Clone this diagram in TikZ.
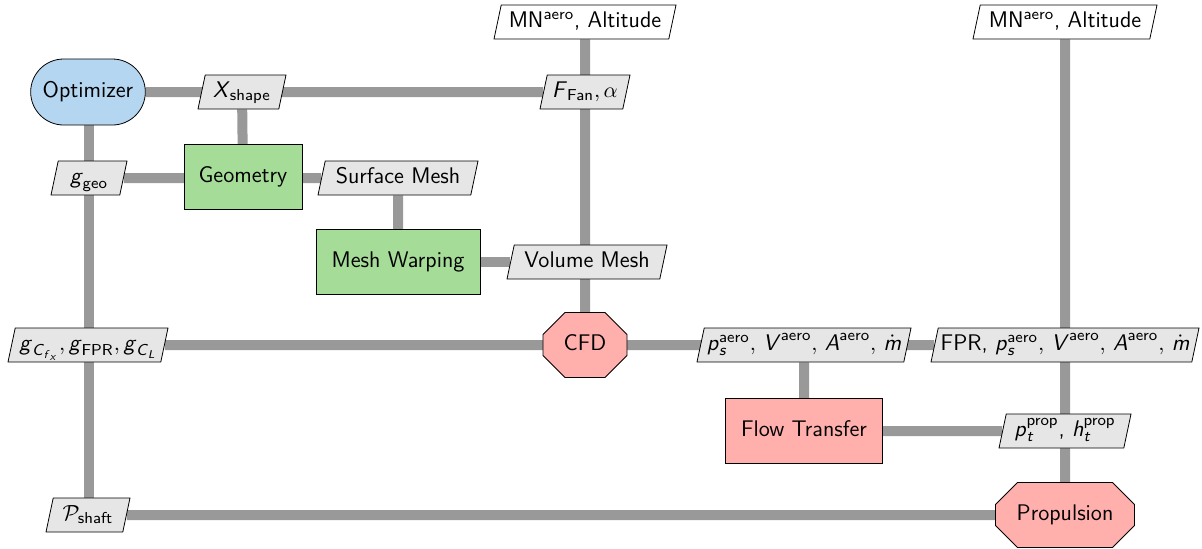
\documentclass[tikz,border=0pt]{standalone}
\usepackage{amsmath}
\usetikzlibrary{shapes.geometric,shapes.misc}
\pgfdeclarelayer{bg}\pgfsetlayers{bg,main}
\renewcommand{\familydefault}{\sfdefault}
\newcommand{\si}[1]{\text{\textit{#1}}}
\newcommand{\su}[1]{\text{\textup{#1}}}
\definecolor{optblue}{RGB}{180,214,240}
\definecolor{fgreen}{RGB}{164,220,152}
\definecolor{fred}{RGB}{255,176,172}
\definecolor{dgray}{RGB}{230,230,230}
\tikzset{
  base/.style={draw=black, line width=0.4pt, font=\fontsize{11.3}{13}\selectfont, text height=1.6ex, text depth=0.45ex},
  datanode/.style={base, trapezium, trapezium left angle=72, trapezium right angle=108, trapezium stretches body, fill=dgray, minimum height=17pt, inner xsep=1pt, inner ysep=1pt},
  inputnode/.style={datanode, fill=white},
  funcnode/.style={base, rectangle, fill=fgreen, minimum height=32.5pt},
  optnode/.style={base, rounded rectangle, fill=optblue, minimum width=64pt, minimum height=33pt},
  mdanode/.style={base, chamfered rectangle, chamfered rectangle xsep=5.5pt, chamfered rectangle ysep=5.5pt, fill=fred, minimum height=32.5pt},
  conn/.style={draw=gray!80, line width=5pt}
}
\begin{document}
\begin{tikzpicture}[x=0.5pt,y=-0.5pt]
\useasboundingbox (0,0) rectangle (1202,548);
\node[optnode] (opt) at (88,92) {Optimizer};
\node[datanode, minimum width=44pt] (xs) at (242,92) {\si{X}$_{\su{shape}}$};
\node[datanode, minimum width=45pt] (ff) at (585,92) {$\si{F}_{\su{Fan}},\alpha$};
\node[inputnode, minimum width=91pt] (in1) at (585,22) {MN$^{\su{aero}}$, Altitude};
\node[inputnode, minimum width=92pt] (in2) at (1065,22) {MN$^{\su{aero}}$, Altitude};
\node[datanode, minimum width=38pt] (gg) at (89,178) {$\si{g}_{\su{geo}}$};
\node[funcnode, minimum width=59pt] (geo) at (243,177) {Geometry};
\node[datanode, minimum width=80pt] (sm) at (398,178) {Surface Mesh};
\node[funcnode, minimum width=82pt] (mw) at (398,262) {Mesh Warping};
\node[datanode, minimum width=80pt] (vm) at (587,262) {Volume Mesh};
\node[datanode, minimum width=80pt] (gc) at (88,345) {$\si{g}_{\si{C}_{\si{f}_{\si{x}}}},\si{g}_{\su{FPR}},\si{g}_{\si{C}_{\si{L}}}$};
\node[mdanode, minimum width=42pt] (cfd) at (585,345) {CFD};
\node[datanode, minimum width=107pt] (ps) at (804,345) {$\si{p}_{\si{s}}^{\su{aero}},\,\si{V}^{\su{aero}},\,\si{A}^{\su{aero}},\,\dot{\si{m}}$};
\node[datanode, minimum width=134pt] (fpr) at (1065,345) {FPR, $\si{p}_{\si{s}}^{\su{aero}},\,\si{V}^{\su{aero}},\,\si{A}^{\su{aero}},\,\dot{\si{m}}$};
\node[funcnode, fill=fred, minimum width=78.5pt] (ft) at (804,431) {Flow Transfer};
\node[datanode, minimum width=66pt] (pt) at (1065,431) {$\si{p}_{\si{t}}^{\su{prop}}$, $\si{h}_{\si{t}}^{\su{prop}}$};
\node[datanode, minimum width=42pt] (psh) at (88,515) {$\mathcal{P}_{\su{shaft}}$};
\node[mdanode, minimum width=69.5pt] (prop) at (1065,515) {Propulsion};
\begin{pgfonlayer}{bg}
\draw[conn] (opt) -- (ff);
\draw[conn] (xs) -- (geo);
\draw[conn] (in1) -- (cfd);
\draw[conn] (89,92) -- (89,515);
\draw[conn] (gg) -- (sm);
\draw[conn] (sm) -- (mw);
\draw[conn] (mw) -- (vm);
\draw[conn] (gc) -- (fpr);
\draw[conn] (ps) -- (ft);
\draw[conn] (in2) -- (prop);
\draw[conn] (ft) -- (pt);
\draw[conn] (psh) -- (prop);
\end{pgfonlayer}
\end{tikzpicture}
\end{document}
